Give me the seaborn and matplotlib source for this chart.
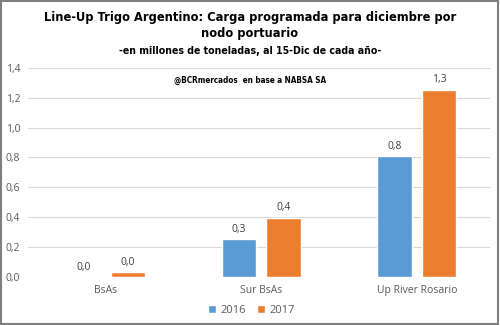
import matplotlib
matplotlib.use("Agg")
import matplotlib.pyplot as plt
import seaborn as sns
import pandas as pd
from matplotlib.patches import Rectangle, Patch

categories = ["BsAs", "Sur BsAs", "Up River Rosario"]
years = ["2016", "2017"]
values_2016 = [0.0, 0.255, 0.81]
values_2017 = [0.034, 0.397, 1.255]
yticks = [0.0, 0.2, 0.4, 0.6, 0.8, 1.0, 1.2, 1.4]

df = pd.DataFrame({
    "nodo": categories * 2,
    "year": [years[0]] * 3 + [years[1]] * 3,
    "value": values_2016 + values_2017,
})

sns.set_theme(style="white")
plt.rcParams["font.family"] = ["Open Sans", "DejaVu Sans"]

fig = plt.figure(figsize=(5, 3.25), dpi=100)
ax = fig.add_axes([0.056, 0.148, 0.924, 0.643])

palette = {"2016": "#5B9BD5", "2017": "#ED7D31"}
sns.barplot(data=df, x="nodo", y="value", hue="year", palette=palette,
            width=0.57, gap=0.22, ax=ax, legend=False, saturation=1)

def fmt(v):
    return f"{v + 1e-9:.1f}".replace(".", ",")

for cont in ax.containers:
    ax.bar_label(cont, labels=[fmt(v) for v in cont.datavalues],
                 padding=3, fontsize=7.5, color="#404040")

ax.set_ylim(0, 1.4)
ax.set_xlim(-0.5, 2.47)
ax.set_yticks(yticks)
ax.set_yticklabels([fmt(v) for v in yticks], fontsize=7.5, color="#595959")
ax.tick_params(axis="x", labelsize=7.5, colors="#595959", length=0, pad=6)
ax.tick_params(axis="y", length=0, pad=16)
for lab in ax.get_yticklabels():
    lab.set_horizontalalignment("left")
ax.set_xlabel("")
ax.set_ylabel("")
ax.grid(axis="y", color="#D9D9D9", linewidth=0.8)
ax.set_axisbelow(True)
for s in ax.spines.values():
    s.set_visible(False)

fig.text(0.5, 0.922, "Line-Up Trigo Argentino: Carga programada para diciembre por\nnodo portuario",
         ha="center", va="center", fontsize=9.2, fontweight="bold", family="DejaVu Sans",
         fontstretch="condensed", linespacing=1.3, color="black")
fig.text(0.5, 0.843, "-en millones de toneladas, al 15-Dic de cada año-",
         ha="center", va="center", fontsize=7.6, fontweight="bold", family="DejaVu Sans",
         fontstretch="condensed", color="black")
fig.text(0.5, 0.751, "@BCRmercados  en base a NABSA SA", ha="center", va="center",
         fontsize=5.9, fontweight="bold", family="DejaVu Sans", fontstretch="condensed",
         color="black")

handles = [Patch(facecolor=palette[y], label=y) for y in years]
leg = fig.legend(handles=handles, loc="center", bbox_to_anchor=(0.503, 0.045), ncol=2,
                 frameon=False, fontsize=8, handlelength=0.7, handleheight=0.7,
                 handletextpad=0.4, columnspacing=1.0)
for t in leg.get_texts():
    t.set_color("#595959")

fig.patches.append(Rectangle((0.002, 0.003), 0.994, 0.994, transform=fig.transFigure,
                             fill=False, edgecolor="#7F7F7F", linewidth=1.5))

fig.savefig("out.png", dpi=100)
